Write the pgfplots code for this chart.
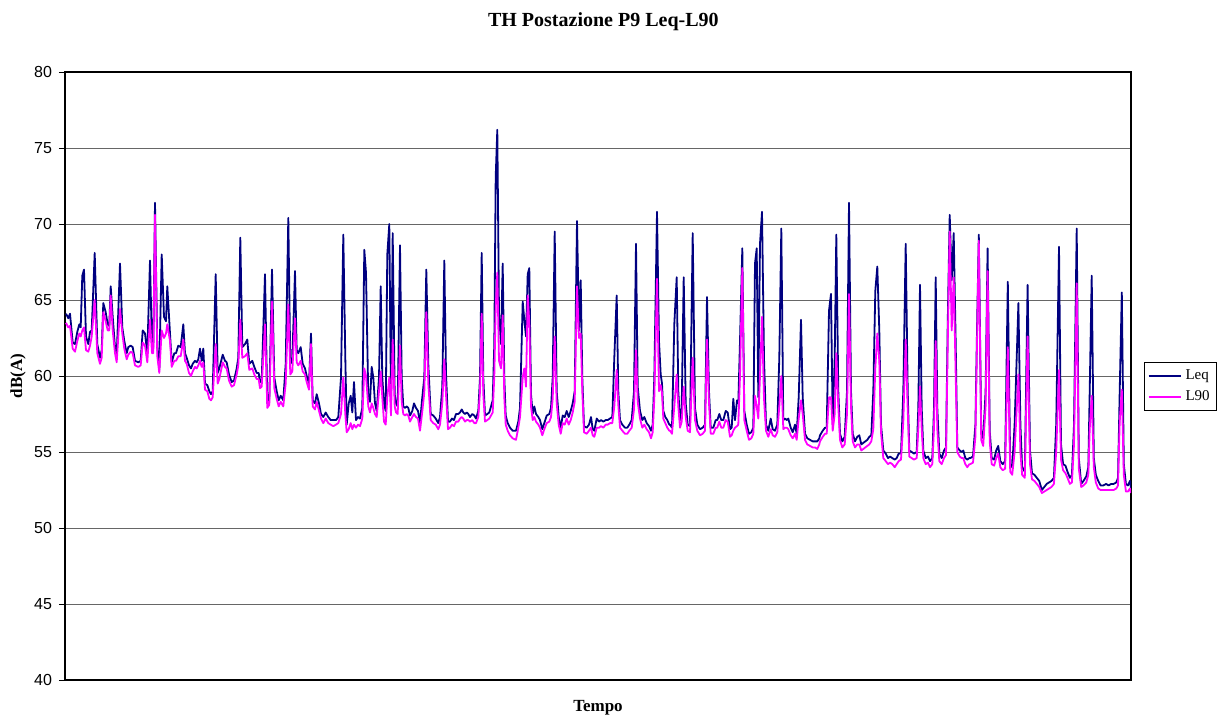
\documentclass[border=0pt]{standalone}
\usepackage{pgfplots}
\usepackage{pgfplotstable}
\usepackage{fontspec}
\pgfplotsset{compat=1.18}
\setmainfont{Liberation Serif}
\newfontfamily\arial{Liberation Sans}

\definecolor{leqcol}{HTML}{000080}
\definecolor{lninety}{HTML}{FF00FF}

% x = position along the time axis, leq / l90 in dB(A)
\pgfplotstableread{
x leq l90
66 64.1 63.5
68.3 63.8 63.2
70 64.1 63.3
72.7 62.2 61.8
75 62.1 61.6
77.3 62.9 62.3
79.3 63.4 62.8
80.7 63.2 62.6
82.3 66.6 63.0
84 67.0 63.2
86 62.6 61.7
88.3 62.1 61.6
90 62.9 62.0
91.7 63.0 62.6
94.7 68.1 65.0
97.3 62.1 61.5
100 61.2 60.8
101.7 61.7 61.2
103.3 64.8 64.2
105.7 64.2 63.6
107.7 63.4 63.0
109.3 63.3 63.0
110.7 65.9 65.3
112.7 63.9 63.0
115 61.9 61.5
116.7 61.3 60.9
120 67.4 64.4
122.3 63.2 62.8
124.3 62.3 61.8
126.7 61.5 61.1
128.3 61.9 61.4
130.7 62.0 61.6
132.7 61.9 61.5
135 61.0 60.7
138.3 60.9 60.6
140.7 61.0 60.7
142.7 63.0 62.2
145 62.8 62.0
147.3 61.5 60.9
150 67.6 63.7
152 61.9 61.5
153.3 61.9 61.5
155 71.4 70.6
157.3 61.9 61.3
159.3 60.4 60.2
161.7 68.0 63.0
164 63.9 62.5
166 63.6 62.8
167.3 65.9 63.4
170 62.8 62.3
171.7 60.9 60.6
174.3 61.5 61.0
176 61.5 61.0
178.3 62.0 61.3
180.7 61.9 61.3
183.3 63.4 62.4
185 61.5 61.0
186.7 61.2 60.8
189 60.7 60.2
191 60.5 60.0
192.7 60.8 60.3
195 61.0 60.6
196.7 60.9 60.5
198.3 61.1 60.7
200 61.8 61.0
201.7 61.0 60.6
203.3 61.8 60.9
205 59.5 59.1
207.3 59.4 59.0
209.3 59.0 58.5
211 58.8 58.4
212.7 59.0 58.6
215.7 66.7 62.1
217.7 60.2 59.5
219.3 60.5 59.8
222.7 61.4 60.9
225 61.0 60.6
226.7 60.9 60.5
229 60.1 59.7
231.7 59.6 59.3
234 59.7 59.4
236.7 60.5 60.1
238.3 61.2 60.7
240.3 69.1 63.7
242.3 61.9 61.2
245 62.1 61.3
247.3 62.4 61.5
249.3 60.8 60.4
252.3 61.0 60.5
254.3 60.6 60.1
256.7 60.2 59.8
258.7 60.2 59.8
260 59.6 59.2
261.7 59.7 59.3
265 66.7 63.4
267.3 58.2 57.9
269.3 58.5 58.1
272 67.0 64.9
274.3 59.9 59.2
276.7 59.0 58.5
278.7 58.4 58.0
280.7 58.7 58.3
283.3 58.4 58.0
285.7 60.8 59.5
288.3 70.4 64.7
290.3 60.8 60.1
292.3 61.0 60.3
295 66.9 63.8
296.7 61.7 60.9
298.3 61.5 60.7
300.7 61.9 61.0
302.7 60.8 60.3
305 60.5 60.1
306.7 60.0 59.6
309 59.5 59.1
311 62.8 62.1
312.7 58.4 58.0
315 58.2 57.8
316.7 58.8 58.3
319 58.2 57.7
321 57.5 57.2
323.3 57.3 56.9
325.7 57.6 57.2
328.3 57.3 56.9
330.7 57.1 56.8
333.3 57.1 56.7
336 57.1 56.8
338.3 57.3 56.9
341 59.9 57.5
343.3 69.3 59.9
345.3 61.2 57.5
346.7 56.8 56.3
348.7 58.2 56.5
350.7 58.7 56.9
352.3 57.6 56.5
354 59.6 56.8
356 57.1 56.6
358 57.3 56.8
360 57.2 56.7
362.3 57.9 57.2
364.3 68.3 60.5
366 66.8 60.0
368.3 58.6 58.0
370 58.3 57.6
371.7 60.6 58.2
373.3 59.9 57.9
375 58.2 57.5
376.7 57.7 57.3
379 59.9 59.0
380.7 65.9 60.3
382.3 59.9 58.6
384 58.2 57.0
385.7 57.7 56.8
387.3 68.0 58.6
389.3 70.0 59.9
391 58.4 57.4
392.7 69.4 62.4
394.7 58.8 58.0
396 58.2 57.6
397.7 58.0 57.5
400 68.6 62.0
401.7 59.9 58.3
403.3 58.0 57.5
405 57.9 57.4
406.7 58.0 57.5
408.3 57.9 57.4
410 57.4 57.0
412.3 57.7 57.3
414 58.2 57.5
416 57.9 57.3
418 57.7 57.2
420 56.9 56.4
422 58.4 57.5
424.3 59.9 58.9
426.3 67.0 64.2
428.3 60.8 59.5
430.7 57.5 57.1
433.3 57.4 56.9
435.7 57.2 56.8
438.3 56.9 56.5
440 57.3 56.8
442.3 59.3 58.2
444.3 67.6 61.1
446 60.2 58.8
448 57.0 56.5
450 57.0 56.6
452 57.2 56.8
454 57.1 56.7
456 57.5 57.0
458.3 57.5 57.0
460 57.6 57.2
461.7 57.8 57.3
463.3 57.6 57.2
465 57.5 57.0
466.7 57.6 57.1
468.3 57.5 57.1
470 57.3 57.0
472.3 57.5 57.1
474.3 57.4 56.9
476 57.2 56.9
478.3 57.7 57.3
480 59.9 59.0
481.7 68.1 64.1
483.3 59.9 58.8
485 57.4 57.0
487.3 57.5 57.1
489.3 57.6 57.2
491 58.0 57.4
492.7 58.4 57.6
494.3 62.1 60.0
495.7 73.1 64.5
497.3 76.2 66.8
499 64.1 61.0
501 62.1 60.5
502.7 67.4 64.0
504.3 59.9 58.6
505.7 57.4 56.8
507.7 56.9 56.4
510 56.6 56.1
512.7 56.4 55.9
516 56.4 55.8
518.3 57.0 56.6
520 57.9 57.3
522.7 64.9 59.9
524.3 63.7 60.5
526 62.6 59.3
527.7 66.7 65.3
529.3 67.1 63.5
531 58.8 58.0
532.7 57.5 57.1
534.3 58.0 57.3
536 57.5 57.0
538.3 57.3 56.8
540 57.1 56.6
542.3 56.5 56.1
544.3 56.9 56.5
546.7 57.4 56.9
549.3 57.5 57.0
551 57.9 57.3
552.7 59.9 58.5
554.7 69.5 62.6
556.7 59.0 58.2
558.7 57.3 56.8
560.7 56.6 56.2
562.7 57.4 56.9
564.7 57.3 56.8
566.7 57.7 57.2
568.7 57.3 56.8
570.7 57.7 57.1
572.7 58.2 57.6
574.7 59.0 58.3
577 70.2 65.9
579 63.0 62.5
580.7 66.3 62.8
582.3 59.9 59.0
584 56.7 56.3
586.7 56.6 56.2
589 56.8 56.4
591 57.3 56.6
592.7 56.5 56.1
594.3 56.4 56.0
596.7 57.2 56.6
599 57.0 56.6
601 57.1 56.7
603.3 57.0 56.6
605.7 57.1 56.8
607.7 57.1 56.8
610 57.2 56.9
612.3 57.3 56.9
614.3 61.2 58.0
616.7 65.3 60.4
618.3 59.0 58.1
620 57.1 56.6
622.3 56.8 56.4
625 56.6 56.2
627.3 56.6 56.2
629.3 56.8 56.4
631.7 57.1 56.6
634 59.0 57.8
636 68.7 61.7
637.7 59.3 58.3
640 57.7 57.2
642.3 57.1 56.6
644.3 57.3 56.8
646.7 56.9 56.5
649 56.7 56.3
651 56.4 55.9
652.7 56.8 56.3
654.3 59.9 58.5
657 70.8 66.4
659 62.3 59.0
660.7 60.1 59.4
662 59.5 58.9
663.3 57.7 57.2
665.3 57.3 56.9
667.3 57.1 56.6
669.3 56.8 56.4
670 56.8 56.4
672 56.6 56.2
674.3 63.4 58.0
676.7 66.5 60.1
678.3 59.0 58.0
680 57.1 56.6
681.7 57.9 57.0
683.7 66.5 59.3
685.7 58.2 57.3
687.7 56.8 56.4
690 56.7 56.3
692.7 69.4 61.2
695 57.9 57.1
697.3 56.8 56.4
700 56.5 56.1
702.7 56.6 56.2
705 56.8 56.4
707 65.2 62.4
709 59.0 58.2
710.7 56.6 56.2
713.3 56.6 56.2
715.7 57.1 56.6
717.3 57.1 56.6
719.3 57.5 57.0
721.3 57.1 56.6
723.3 57.1 56.6
725.7 57.7 57.1
727.7 57.6 57.0
730 56.5 56.0
731.7 56.6 56.1
733.3 58.5 56.4
735 57.1 56.6
737 58.4 56.7
738.3 58.2 56.8
740 62.3 60.0
742.3 68.4 67.1
744.3 57.7 57.1
746.7 56.8 56.4
749 56.2 55.8
751.3 56.3 55.9
753.3 56.6 56.2
755 67.4 58.7
756.7 68.4 58.0
758.3 58.6 57.2
760 68.7 60.0
762 70.8 63.9
764 61.2 58.5
766 56.8 56.4
768.3 56.4 56.0
770.7 57.2 56.5
772.7 56.5 56.1
775 56.4 56.0
777.3 56.8 56.3
779.3 61.2 58.0
781.3 69.7 60.0
783.3 57.1 56.5
785 57.2 56.6
786.7 57.1 56.6
788.3 57.2 56.5
790.7 56.6 56.1
792.7 56.3 55.9
795 56.8 56.2
796.7 56.2 55.8
798.7 58.6 57.2
801 63.7 58.4
802.7 58.6 57.5
805 56.2 55.8
807.3 55.9 55.5
810 55.8 55.4
812.7 55.7 55.3
815 55.7 55.3
817.3 55.7 55.2
819.3 55.9 55.5
820 56.1 55.7
822.7 56.4 56.0
825 56.6 56.2
826.7 56.6 56.2
829 64.3 58.6
831 65.4 58.6
832.7 56.8 56.4
834.7 61.2 57.5
836.3 69.3 61.5
838.3 59.0 58.0
840 56.2 55.8
842.3 55.7 55.3
844.7 56.0 55.5
847 59.0 57.5
849 71.4 65.4
851 59.0 58.0
852.7 56.2 55.7
855 55.7 55.3
857.3 56.0 55.5
859.3 56.1 55.5
861.3 55.5 55.1
863.3 55.6 55.2
865.3 55.7 55.3
867.3 55.8 55.4
869.3 56.0 55.5
871.3 56.1 55.7
873.3 59.0 56.5
875.3 65.6 60.5
877.3 67.2 62.8
879.3 63.0 61.0
881 56.8 56.3
883.3 55.1 54.6
885.7 54.9 54.4
888 54.6 54.2
890 54.7 54.3
892.3 54.6 54.2
894.7 54.5 54.0
896.7 54.6 54.2
898.7 54.9 54.4
901 54.9 54.5
903.3 59.0 57.0
905.7 68.7 62.4
907.7 59.0 57.8
909.3 55.1 54.7
911.7 55.0 54.6
914 54.9 54.5
916.7 55.0 54.6
918.3 57.9 56.5
920 66.0 59.3
921.7 57.9 56.5
923.3 55.1 54.6
925.7 54.6 54.2
928 54.7 54.3
930 54.4 54.0
932.3 54.6 54.2
934 57.9 56.6
935.7 66.5 62.3
937.3 57.9 56.5
939.3 54.9 54.4
941.7 54.6 54.2
944 55.1 54.6
946 55.3 54.8
947.7 63.4 62.0
949.7 70.6 69.5
951.7 66.3 63.0
953.7 69.4 66.5
955.7 62.1 60.0
957.3 55.3 55.0
959.7 55.1 54.7
961.7 55.0 54.6
963.3 55.1 54.6
965.3 54.6 54.2
967.3 54.5 54.0
969.3 54.6 54.2
970.2 54.6 54.2
973 54.7 54.3
975.4 56.8 56.0
977.1 63.4 62.5
978.8 69.3 68.9
981.2 56.4 55.8
983.2 55.9 55.4
985.6 59.0 58.0
987.6 68.4 66.9
989.7 56.4 55.7
991.7 54.6 54.2
994.1 54.5 54.1
996.2 55.1 54.6
998.2 55.4 54.9
1000.3 54.4 54.0
1002.7 54.2 53.8
1005.1 54.4 53.9
1007.8 66.2 61.9
1010.2 54.2 53.7
1012.2 54.0 53.5
1014.6 56.8 55.0
1018.4 64.8 60.1
1020.4 56.8 55.0
1022.1 54.0 53.5
1024.8 53.7 53.3
1027.6 66.0 62.6
1030 55.1 54.2
1032 53.6 53.2
1034.4 53.5 53.1
1036.8 53.3 52.9
1039.2 53.1 52.7
1041.9 52.5 52.3
1044.3 52.7 52.4
1046.7 52.9 52.5
1049.1 53.0 52.6
1051.5 53.1 52.7
1053.9 53.3 52.9
1056.2 56.8 55.0
1059 68.5 60.4
1061 55.5 54.5
1063.1 54.2 53.8
1065.5 54.1 53.6
1067.5 53.7 53.3
1069.9 53.3 52.9
1071.9 53.5 53.0
1074 56.8 55.5
1076.7 69.7 66.1
1078.8 54.6 53.9
1081.2 52.9 52.7
1083.5 53.1 52.8
1086.3 53.4 53.0
1088.3 54.0 53.5
1089.7 59.0 56.5
1091.7 66.6 58.7
1093.8 54.6 54.0
1095.8 53.5 53.0
1098.2 53.1 52.6
1100.6 52.8 52.5
1103.3 52.8 52.5
1106.1 52.9 52.5
1108.5 52.8 52.5
1111.2 52.9 52.5
1113.6 52.9 52.5
1116.3 53.0 52.6
1118 53.3 52.8
1119.7 59.0 57.0
1121.8 65.5 59.1
1123.8 54.2 53.5
1125.9 52.9 52.4
1127.9 52.8 52.4
1130 53.1 52.6
1131 52.6 52.3
}\thdata

\begin{document}
\begin{tikzpicture}
\useasboundingbox (-32.5pt,-19.5pt) rectangle (577.5pt,340pt);
\begin{axis}[
    at={(0pt,0pt)}, anchor=south west,
    scale only axis,
    width=533pt, height=304pt,
    xmin=65, xmax=1131,
    ymin=40, ymax=80,
    ytick={40,45,...,80},
    ytick pos=left,
    xtick=\empty,
    ymajorgrids,
    grid style={gray!80!black, line width=0.5pt},
    axis line style={black, line width=0.6pt},
    tick align=outside,
    major tick length=3pt,
    tick style={black, line width=0.5pt},
    /pgf/number format/assume math mode=true,
    tick label style={font=\arial\fontsize{8}{9}\selectfont},
    title={TH Postazione P9 Leq-L90},
    title style={font=\bfseries\fontsize{10}{11}\selectfont, at={(0.505,1.063)}, anchor=center},
    xlabel={Tempo},
    xlabel style={font=\bfseries\fontsize{8.5}{10}\selectfont, at={(0.5,-0.046)}, anchor=center},
    ylabel={dB(A)},
    ylabel style={font=\bfseries\fontsize{8.5}{10}\selectfont, at={(-0.044,0.5)}, anchor=center},
    legend style={at={(1.0122,0.523)}, anchor=north west, draw=black, line width=0.5pt,
        font=\fontsize{7.5}{9}\selectfont, inner sep=1.5pt,
        cells={anchor=west}},
    legend image code/.code={\draw[#1, line width=1pt] (0pt,0pt) -- (16pt,0pt);},
]
\addplot[leqcol, line width=0.9pt, line join=round] table[x=x, y=leq] {\thdata};
\addlegendentry{Leq}
\addplot[lninety, line width=0.9pt, line join=round] table[x=x, y=l90] {\thdata};
\addlegendentry{L90}
\end{axis}
\end{tikzpicture}
\end{document}
